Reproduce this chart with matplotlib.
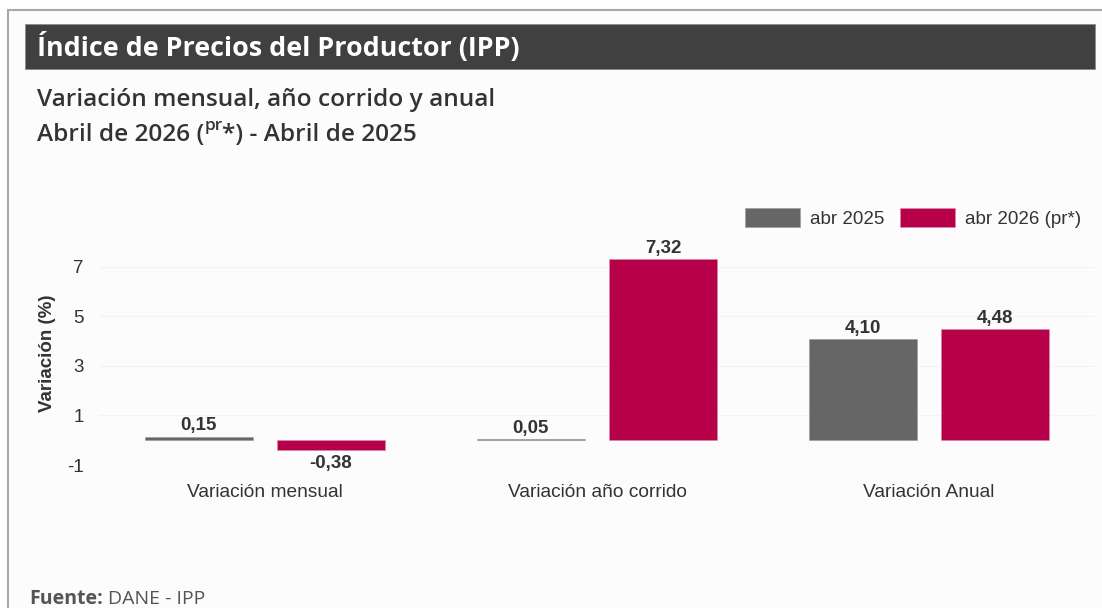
import matplotlib
matplotlib.use("Agg")
import matplotlib.pyplot as plt
import numpy as np
from matplotlib.patches import Rectangle

categories = ["Variación mensual", "Variación año corrido", "Variación Anual"]
series_names = ["abr 2025", "abr 2026 (pr*)"]
vals_2025 = [0.15, 0.05, 4.10]
vals_2026 = [-0.38, 7.32, 4.48]
value_labels_2025 = ["0,15", "0,05", "4,10"]
value_labels_2026 = ["-0,38", "7,32", "4,48"]
yticks = [-1, 1, 3, 5, 7]

GRAY = "#666666"
RED = "#B7004A"
TXT = "#333333"
FS = 13.5

W, H = 1102, 608
fig = plt.figure(figsize=(W / 100, H / 100), dpi=100)
fig.patch.set_facecolor("white")

def fx(x):
    return x / W

def fy(y):
    return 1 - y / H

# card background + border
card = Rectangle((fx(8), fy(700)), fx(1200), fy(10) - fy(700), transform=fig.transFigure,
                 facecolor="#fcfcfc", edgecolor="#a8a8a8", linewidth=1.5, zorder=-10)
fig.patches.append(card)
# title bar
bar = Rectangle((fx(25), fy(69)), fx(1095 - 25), fy(24) - fy(69), transform=fig.transFigure,
                facecolor="#404040", edgecolor="#8a8a8a", linewidth=0.6, zorder=-9)
fig.patches.append(bar)
fig.text(fx(37), fy(47), "Índice de Precios del Productor (IPP)", color="white",
         fontsize=19.4, fontweight="bold", family="Open Sans", va="center", ha="left", zorder=2)

fig.text(fx(37), fy(100), "Variación mensual, año corrido y anual", color=TXT,
         fontsize=17.6, fontweight="semibold", family="Open Sans", va="center", ha="left")

# subtitle line 2 with superscript
fig.canvas.draw()
r = fig.canvas.get_renderer()
t1 = fig.text(fx(37), fy(135), "Abril de 2026 (", color=TXT, fontsize=17.6,
              fontweight="semibold", family="Open Sans", va="center", ha="left")
bb = t1.get_window_extent(renderer=r)
t2 = fig.text(bb.x1 / W, fy(126), "pr", color=TXT, fontsize=12.5,
              fontweight="semibold", family="Open Sans", va="center", ha="left")
bb2 = t2.get_window_extent(renderer=r)
fig.text(bb2.x1 / W, fy(135), "*) - Abril de 2025", color=TXT, fontsize=17.6,
         fontweight="semibold", family="Open Sans", va="center", ha="left")

# footer
t3 = fig.text(fx(29), fy(599), "Fuente:", color="#555555", fontsize=14,
              fontweight="bold", family="Open Sans", va="center", ha="left")
bb3 = t3.get_window_extent(renderer=r)
fig.text(bb3.x1 / W + 0.005, fy(599), "DANE - IPP", color="#555555", fontsize=14,
         family="Open Sans", va="center", ha="left")

# axes
ax = fig.add_axes([fx(99), fy(465), fx(1095 - 99), fy(242) - fy(465)])
ax.set_facecolor("none")
x = np.arange(len(categories))
bw = 0.325
off = 0.199
b1 = ax.bar(x - off, vals_2025, bw, color=GRAY, edgecolor="#999999", linewidth=0.4,
            label=series_names[0], zorder=3)
b2 = ax.bar(x + off, vals_2026, bw, color=RED, edgecolor="#d88aa8", linewidth=0.4,
            label=series_names[1], zorder=3)
ax.set_xlim(-0.5, 2.5)
ax.set_ylim(-1, 8)
ax.set_yticks(yticks)
ax.set_yticklabels([str(v) for v in yticks])
ax.set_xticks(x)
ax.set_xticklabels(categories)
for s in ax.spines.values():
    s.set_visible(False)
ax.tick_params(axis="both", length=0, colors=TXT, labelsize=FS)
ax.tick_params(axis="x", labelsize=13.8, pad=14)
ax.tick_params(axis="y", pad=11)
for lab in ax.get_xticklabels() + ax.get_yticklabels():
    lab.set_family("Liberation Sans")
ax.grid(axis="y", color="#f3f3f3", linewidth=0.8, zorder=0)
ax.set_axisbelow(True)
ax.set_ylabel("Variación (%)", fontsize=FS, fontweight="bold", family="Liberation Sans",
              color=TXT, labelpad=8)

for rect, lab, v in list(zip(b1, value_labels_2025, vals_2025)) + list(zip(b2, value_labels_2026, vals_2026)):
    cx = rect.get_x() + rect.get_width() / 2
    if v >= 0:
        ax.annotate(lab, (cx, v), xytext=(0, 1.5), textcoords="offset points", ha="center",
                    va="bottom", fontsize=FS, fontweight="bold", family="Liberation Sans", color=TXT)
    else:
        ax.annotate(lab, (cx, v), xytext=(0, -4), textcoords="offset points", ha="center",
                    va="top", fontsize=FS, fontweight="bold", family="Liberation Sans", color=TXT)

leg = fig.legend(handles=[b1, b2], labels=series_names, loc="center right",
                 bbox_to_anchor=(fx(1081), fy(218)), ncol=2, frameon=False,
                 prop={"family": "Liberation Sans", "size": FS}, handlelength=2.93,
                 handleheight=1.12, handletextpad=0.53, columnspacing=0.85,
                 borderaxespad=0, borderpad=0)
for t in leg.get_texts():
    t.set_color(TXT)

fig.savefig("out.png", dpi=100, facecolor=fig.get_facecolor())
